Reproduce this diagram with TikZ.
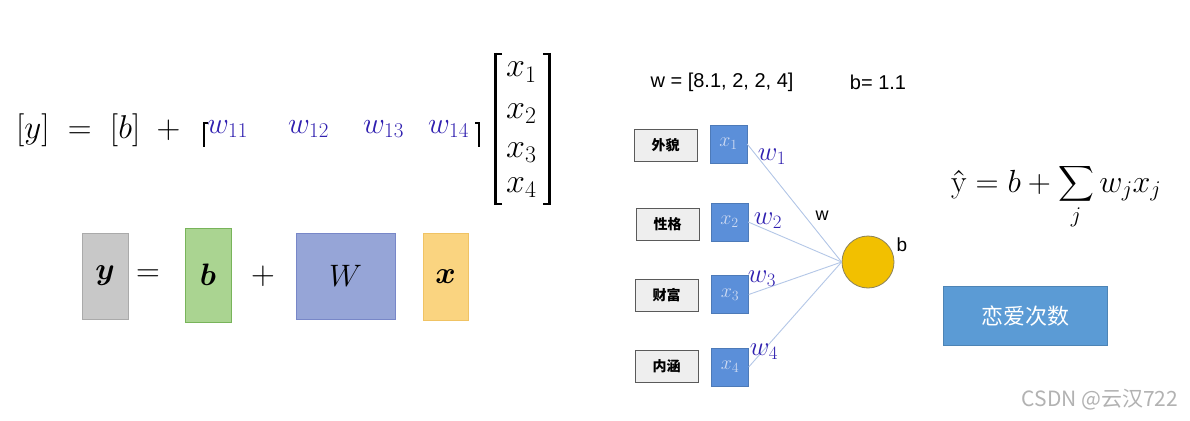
\RequirePackage{fix-cm}
\documentclass[tikz,border=0pt]{standalone}
\usepackage{amsmath,bm}
\usepackage{fontspec}
\newfontfamily\sansf{Liberation Sans}
\newfontfamily\cjk{Noto Sans CJK SC}
\definecolor{gyfill}{RGB}{200,200,200}
\definecolor{gydraw}{RGB}{170,170,170}
\definecolor{grfill}{RGB}{170,212,145}
\definecolor{grdraw}{RGB}{120,180,90}
\definecolor{blfill}{RGB}{150,165,215}
\definecolor{bldraw}{RGB}{120,135,200}
\definecolor{orfill}{RGB}{250,212,128}
\definecolor{ordraw}{RGB}{240,195,100}
\definecolor{wblue}{RGB}{48,32,176}
\definecolor{sqblue}{RGB}{91,143,217}
\definecolor{sqtext}{RGB}{205,218,242}
\definecolor{linkc}{RGB}{180,199,231}
\definecolor{gold}{RGB}{242,192,0}
\definecolor{goldd}{RGB}{140,130,90}
\definecolor{outblue}{RGB}{91,155,213}
\definecolor{lblfill}{RGB}{238,238,238}
\definecolor{lbldraw}{RGB}{90,90,90}
\tikzset{
  bigm/.style={inner sep=0pt, font=\fontsize{33}{38}\selectfont},
  wcoef/.style={inner sep=0pt, anchor=base west, text=wblue, font=\fontsize{30}{34}\selectfont},
  xent/.style={inner sep=0pt, anchor=base west, font=\fontsize{34}{38}\selectfont},
  brkv/.style={line width=3.2pt},
  brkh/.style={line width=2.2pt},
  sbrk/.style={line width=1.4pt},
  mbox/.style={inner sep=0pt, minimum width=46pt, minimum height=86pt, line width=0.8pt, font=\fontsize{31}{36}\selectfont},
  lbl/.style={draw=lbldraw, fill=lblfill, line width=1pt, minimum width=63pt, minimum height=32pt, inner sep=0pt, font=\cjk\bfseries\fontsize{14}{16}\selectfont},
  sq/.style={fill=sqblue, draw=sqblue!85!black, line width=0.4pt, minimum width=37pt, minimum height=38pt, inner sep=0pt, text=sqtext, font=\fontsize{20}{22}\selectfont},
  conn/.style={draw=linkc, line width=0.9pt},
  wlab/.style={inner sep=0pt, text=wblue, font=\fontsize{27}{30}\selectfont},
  plain/.style={inner sep=0pt, font=\sansf\fontsize{20}{24}\selectfont},
}
\begin{document}
\begin{tikzpicture}[x=1pt,y=-1pt]
\useasboundingbox[fill=white] (0,0) rectangle (1190,420);
% top-left formula
\node[bigm, anchor=base west] (lhs) at (16,138) {$[y]\;=\;[b]\;+{}$};
\coordinate (lbA) at (208,123);
\coordinate (rbA) at (475,123);
\draw[sbrk] (lbA) -- ++(-4,0) -- ++(0,24);
\draw[sbrk] (rbA) -- ++(4,0) -- ++(0,24);
\node[wcoef] (w11) at (207,133) {$w_{11}$};
\node[wcoef] (w12) at (288,133) {$w_{12}$};
\node[wcoef] (w13) at (363,133) {$w_{13}$};
\node[wcoef] (w14) at (428,133) {$w_{14}$};
\coordinate (bl1) at (502,54);
\coordinate (br1) at (543,54);
\draw[brkh] (bl1) -- ++(-8,0);
\draw[brkv] (495.5,53) -- (495.5,205);
\draw[brkh] (502,204) -- ++(-8,0);
\draw[brkh] (br1) -- ++(8,0);
\draw[brkv] (549.5,53) -- (549.5,205);
\draw[brkh] (543,204) -- ++(8,0);
\node[xent] (x1) at (506,77) {$x_1$};
\node[xent] (x2) at (506,118) {$x_2$};
\node[xent] (x3) at (506,157) {$x_3$};
\node[xent] (x4) at (506,192) {$x_4$};
% boxes row
\node[mbox, fill=gyfill, draw=gydraw] (Y) at (105,276) {$\bm{y}$};
\node[bigm] (eq) at (148,276) {$=$};
\node[mbox, fill=grfill, draw=grdraw, minimum height=94pt] (B) at (208,275) {$\bm{b}$};
\node[bigm] (pl) at (263,276) {$+$};
\node[mbox, fill=blfill, draw=bldraw, minimum width=99pt] (W) at (345.5,276) {$W$};
\node[mbox, fill=orfill, draw=ordraw, minimum width=45pt, minimum height=87pt] (X) at (445.5,276.5) {$\bm{x}$};
% right part
\node[plain] (wvec) at (722,82) {w = [8.1, 2, 2, 4]};
\node[plain] (bval) at (878,82) {b= 1.1};
\node[lbl] (l1) at (665.5,145) {外貌};
\node[lbl] (l2) at (667.5,224.5) {性格};
\node[lbl] (l3) at (666.5,295.5) {财富};
\node[lbl] (l4) at (666.5,366.5) {内涵};
\node[sq] (s1) at (728.5,144) {$x_1$};
\node[sq] (s2) at (729.5,222) {$x_2$};
\node[sq] (s3) at (730,294.5) {$x_3$};
\node[sq] (s4) at (730,367) {$x_4$};
\node[circle, fill=gold, draw=goldd, line width=0.8pt, minimum size=52pt, inner sep=0pt] (n) at (868,262) {};
\draw[conn] (s1.east) -- (n.west);
\draw[conn] (s2.east) -- (n.west);
\draw[conn] (s3.east) -- (n.west);
\draw[conn] (s4.east) -- (n.west);
\node[wlab] (lw1) at (772,157) {$w_1$};
\node[wlab] (lw2) at (768,221) {$w_2$};
\node[wlab] (lw3) at (762,279) {$w_3$};
\node[wlab] (lw4) at (764,352) {$w_4$};
\node[plain, font=\sansf\fontsize{18}{20}\selectfont] (wl) at (822,216) {w};
\node[plain, font=\sansf\fontsize{19}{21}\selectfont] (bl) at (902,245) {b};
% summation formula
\node[inner sep=0pt, anchor=base west, font=\fontsize{32}{36}\selectfont] (yhat) at (951,192) {$\displaystyle \text{ŷ} = b + \sum_{j} w_j x_j$};
\node[fill=outblue, draw=outblue!85!black, line width=0.6pt, minimum width=164pt, minimum height=59pt, inner sep=0pt, text=white, font=\cjk\fontsize{22}{26}\selectfont] (out) at (1025,316) {恋爱次数};
% watermark
\node[inner sep=0pt, text=gray!60, font=\cjk\fontsize{21}{24}\selectfont] (wm) at (1100,400) {CSDN @云汉722};
\end{tikzpicture}
\end{document}
